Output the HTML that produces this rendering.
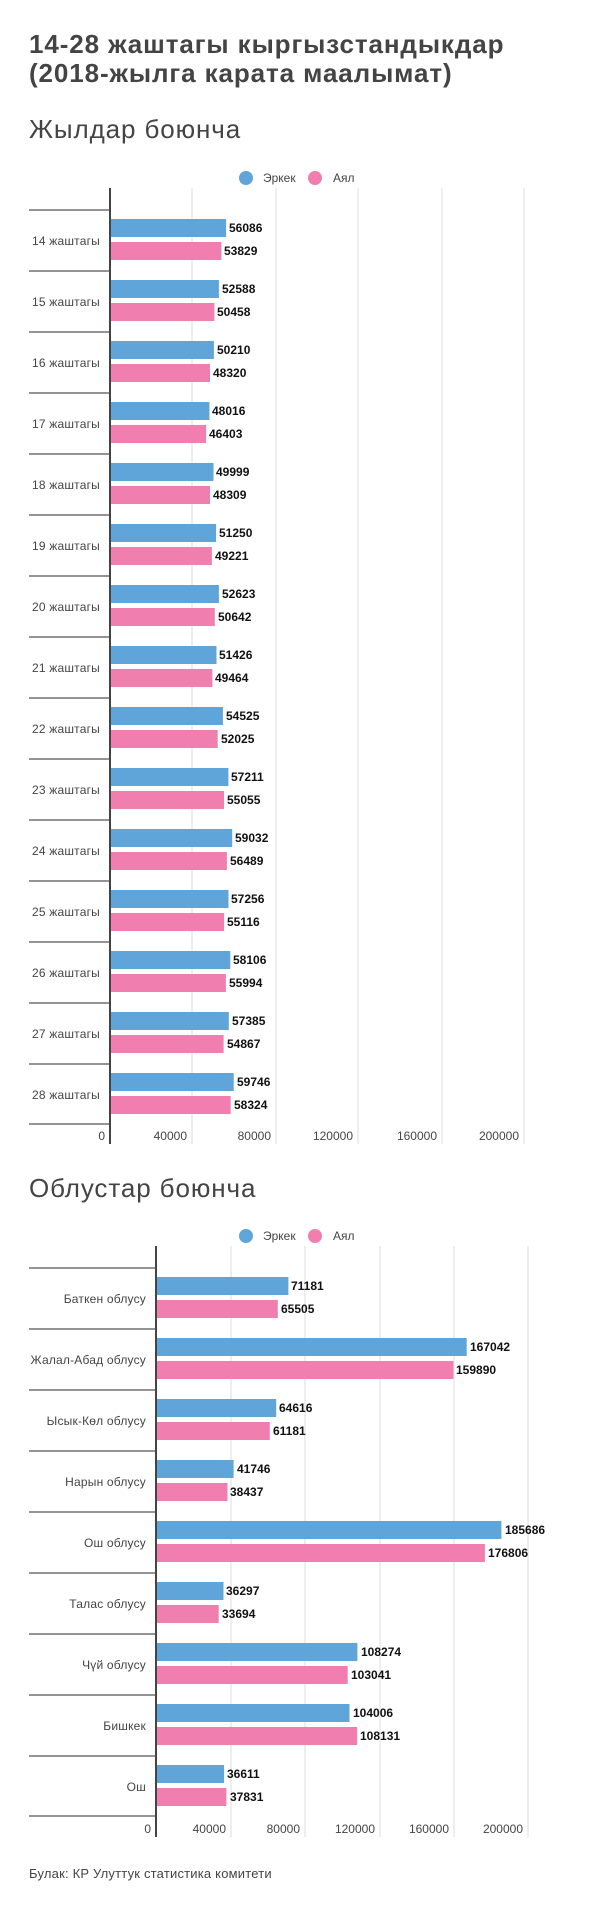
<!DOCTYPE html>
<html><head><meta charset="utf-8"><style>
html,body{margin:0;padding:0;background:#fff;}
svg{display:block;font-family:"Liberation Sans","DejaVu Sans",sans-serif;}
.t{font-weight:bold;font-size:26px;fill:#444;letter-spacing:0.9px;}
.s{font-size:26px;fill:#444;letter-spacing:0.9px;}
.c{font-size:12px;fill:#444;text-anchor:end;letter-spacing:0.2px;}
.v{font-size:12px;font-weight:bold;fill:#111;}
.a{font-size:12px;fill:#444;text-anchor:end;}
.l{font-size:12px;fill:#444;}
.b{fill:#5fa5d9;}
.p{fill:#f07fb0;}
.g{stroke:#ddd;stroke-width:1;}
.sep{stroke:#555;stroke-width:1.2;}
</style></head><body>
<svg width="600" height="1929" viewBox="0 0 600 1929">
<text class="t" x="29" y="53">14-28 жаштагы кыргызстандыкдар</text>
<text class="t" x="29" y="82">(2018-жылга карата маалымат)</text>
<text class="s" x="29" y="138">Жылдар боюнча</text>
<circle class="b" cx="246" cy="178" r="7"/><text class="l" x="263" y="182">Эркек</text>
<circle class="p" cx="315" cy="178" r="7"/><text class="l" x="333" y="182">Аял</text>
<g class="g"><line x1="192" y1="188" x2="192" y2="1144"/><line x1="276" y1="188" x2="276" y2="1144"/><line x1="358" y1="188" x2="358" y2="1144"/><line x1="442" y1="188" x2="442" y2="1144"/><line x1="524" y1="188" x2="524" y2="1144"/></g>
<g class="sep"><line x1="29" y1="210" x2="110" y2="210"/><line x1="29" y1="1124" x2="110" y2="1124"/></g>
<g transform="translate(0,210)"><text class="c" x="100" y="35">14 жаштагы</text><rect class="b" x="110" y="9" width="116.1" height="18"/><rect class="p" x="110" y="32" width="111.4" height="18"/><text class="v" x="229" y="22">56086</text><text class="v" x="224" y="45">53829</text><line class="sep" x1="29" y1="61" x2="110" y2="61"/></g>
<g transform="translate(0,271)"><text class="c" x="100" y="35">15 жаштагы</text><rect class="b" x="110" y="9" width="108.9" height="18"/><rect class="p" x="110" y="32" width="104.4" height="18"/><text class="v" x="222" y="22">52588</text><text class="v" x="217" y="45">50458</text><line class="sep" x1="29" y1="61" x2="110" y2="61"/></g>
<g transform="translate(0,332)"><text class="c" x="100" y="35">16 жаштагы</text><rect class="b" x="110" y="9" width="103.9" height="18"/><rect class="p" x="110" y="32" width="100.0" height="18"/><text class="v" x="217" y="22">50210</text><text class="v" x="213" y="45">48320</text><line class="sep" x1="29" y1="61" x2="110" y2="61"/></g>
<g transform="translate(0,393)"><text class="c" x="100" y="35">17 жаштагы</text><rect class="b" x="110" y="9" width="99.4" height="18"/><rect class="p" x="110" y="32" width="96.1" height="18"/><text class="v" x="212" y="22">48016</text><text class="v" x="209" y="45">46403</text><line class="sep" x1="29" y1="61" x2="110" y2="61"/></g>
<g transform="translate(0,454)"><text class="c" x="100" y="35">18 жаштагы</text><rect class="b" x="110" y="9" width="103.5" height="18"/><rect class="p" x="110" y="32" width="100.0" height="18"/><text class="v" x="216" y="22">49999</text><text class="v" x="213" y="45">48309</text><line class="sep" x1="29" y1="61" x2="110" y2="61"/></g>
<g transform="translate(0,515)"><text class="c" x="100" y="35">19 жаштагы</text><rect class="b" x="110" y="9" width="106.1" height="18"/><rect class="p" x="110" y="32" width="101.9" height="18"/><text class="v" x="219" y="22">51250</text><text class="v" x="215" y="45">49221</text><line class="sep" x1="29" y1="61" x2="110" y2="61"/></g>
<g transform="translate(0,576)"><text class="c" x="100" y="35">20 жаштагы</text><rect class="b" x="110" y="9" width="108.9" height="18"/><rect class="p" x="110" y="32" width="104.8" height="18"/><text class="v" x="222" y="22">52623</text><text class="v" x="218" y="45">50642</text><line class="sep" x1="29" y1="61" x2="110" y2="61"/></g>
<g transform="translate(0,637)"><text class="c" x="100" y="35">21 жаштагы</text><rect class="b" x="110" y="9" width="106.5" height="18"/><rect class="p" x="110" y="32" width="102.4" height="18"/><text class="v" x="219" y="22">51426</text><text class="v" x="215" y="45">49464</text><line class="sep" x1="29" y1="61" x2="110" y2="61"/></g>
<g transform="translate(0,698)"><text class="c" x="100" y="35">22 жаштагы</text><rect class="b" x="110" y="9" width="112.9" height="18"/><rect class="p" x="110" y="32" width="107.7" height="18"/><text class="v" x="226" y="22">54525</text><text class="v" x="221" y="45">52025</text><line class="sep" x1="29" y1="61" x2="110" y2="61"/></g>
<g transform="translate(0,759)"><text class="c" x="100" y="35">23 жаштагы</text><rect class="b" x="110" y="9" width="118.4" height="18"/><rect class="p" x="110" y="32" width="114.0" height="18"/><text class="v" x="231" y="22">57211</text><text class="v" x="227" y="45">55055</text><line class="sep" x1="29" y1="61" x2="110" y2="61"/></g>
<g transform="translate(0,820)"><text class="c" x="100" y="35">24 жаштагы</text><rect class="b" x="110" y="9" width="122.2" height="18"/><rect class="p" x="110" y="32" width="116.9" height="18"/><text class="v" x="235" y="22">59032</text><text class="v" x="230" y="45">56489</text><line class="sep" x1="29" y1="61" x2="110" y2="61"/></g>
<g transform="translate(0,881)"><text class="c" x="100" y="35">25 жаштагы</text><rect class="b" x="110" y="9" width="118.5" height="18"/><rect class="p" x="110" y="32" width="114.1" height="18"/><text class="v" x="231" y="22">57256</text><text class="v" x="227" y="45">55116</text><line class="sep" x1="29" y1="61" x2="110" y2="61"/></g>
<g transform="translate(0,942)"><text class="c" x="100" y="35">26 жаштагы</text><rect class="b" x="110" y="9" width="120.3" height="18"/><rect class="p" x="110" y="32" width="115.9" height="18"/><text class="v" x="233" y="22">58106</text><text class="v" x="229" y="45">55994</text><line class="sep" x1="29" y1="61" x2="110" y2="61"/></g>
<g transform="translate(0,1003)"><text class="c" x="100" y="35">27 жаштагы</text><rect class="b" x="110" y="9" width="118.8" height="18"/><rect class="p" x="110" y="32" width="113.6" height="18"/><text class="v" x="232" y="22">57385</text><text class="v" x="227" y="45">54867</text><line class="sep" x1="29" y1="61" x2="110" y2="61"/></g>
<g transform="translate(0,1064)"><text class="c" x="100" y="35">28 жаштагы</text><rect class="b" x="110" y="9" width="123.7" height="18"/><rect class="p" x="110" y="32" width="120.7" height="18"/><text class="v" x="237" y="22">59746</text><text class="v" x="234" y="45">58324</text></g>
<line x1="110" y1="188" x2="110" y2="1144" stroke="#444" stroke-width="2"/>
<text class="a" x="105" y="1140">0</text><text class="a" x="187" y="1140">40000</text><text class="a" x="271" y="1140">80000</text><text class="a" x="353" y="1140">120000</text><text class="a" x="437" y="1140">160000</text><text class="a" x="519" y="1140">200000</text>

<text class="s" x="29" y="1197">Облустар боюнча</text>
<circle class="b" cx="246" cy="1236" r="7"/><text class="l" x="263" y="1240">Эркек</text>
<circle class="p" cx="315" cy="1236" r="7"/><text class="l" x="333" y="1240">Аял</text>
<g class="g"><line x1="231" y1="1246" x2="231" y2="1837"/><line x1="305" y1="1246" x2="305" y2="1837"/><line x1="380" y1="1246" x2="380" y2="1837"/><line x1="454" y1="1246" x2="454" y2="1837"/><line x1="528" y1="1246" x2="528" y2="1837"/></g>
<g class="sep"><line x1="29" y1="1268" x2="156" y2="1268"/><line x1="29" y1="1816" x2="156" y2="1816"/></g>
<g transform="translate(0,1268)"><text class="c" x="146" y="35">Баткен облусу</text><rect class="b" x="156" y="9" width="132.4" height="18"/><rect class="p" x="156" y="32" width="121.8" height="18"/><text class="v" x="291" y="22">71181</text><text class="v" x="281" y="45">65505</text><line class="sep" x1="29" y1="61" x2="156" y2="61"/></g>
<g transform="translate(0,1329)"><text class="c" x="146" y="35">Жалал-Абад облусу</text><rect class="b" x="156" y="9" width="310.7" height="18"/><rect class="p" x="156" y="32" width="297.4" height="18"/><text class="v" x="470" y="22">167042</text><text class="v" x="456" y="45">159890</text><line class="sep" x1="29" y1="61" x2="156" y2="61"/></g>
<g transform="translate(0,1390)"><text class="c" x="146" y="35">Ысык-Көл облусу</text><rect class="b" x="156" y="9" width="120.2" height="18"/><rect class="p" x="156" y="32" width="113.8" height="18"/><text class="v" x="279" y="22">64616</text><text class="v" x="273" y="45">61181</text><line class="sep" x1="29" y1="61" x2="156" y2="61"/></g>
<g transform="translate(0,1451)"><text class="c" x="146" y="35">Нарын облусу</text><rect class="b" x="156" y="9" width="77.6" height="18"/><rect class="p" x="156" y="32" width="71.5" height="18"/><text class="v" x="237" y="22">41746</text><text class="v" x="230" y="45">38437</text><line class="sep" x1="29" y1="61" x2="156" y2="61"/></g>
<g transform="translate(0,1512)"><text class="c" x="146" y="35">Ош облусу</text><rect class="b" x="156" y="9" width="345.4" height="18"/><rect class="p" x="156" y="32" width="328.9" height="18"/><text class="v" x="505" y="22">185686</text><text class="v" x="488" y="45">176806</text><line class="sep" x1="29" y1="61" x2="156" y2="61"/></g>
<g transform="translate(0,1573)"><text class="c" x="146" y="35">Талас облусу</text><rect class="b" x="156" y="9" width="67.5" height="18"/><rect class="p" x="156" y="32" width="62.7" height="18"/><text class="v" x="226" y="22">36297</text><text class="v" x="222" y="45">33694</text><line class="sep" x1="29" y1="61" x2="156" y2="61"/></g>
<g transform="translate(0,1634)"><text class="c" x="146" y="35">Чүй облусу</text><rect class="b" x="156" y="9" width="201.4" height="18"/><rect class="p" x="156" y="32" width="191.7" height="18"/><text class="v" x="361" y="22">108274</text><text class="v" x="351" y="45">103041</text><line class="sep" x1="29" y1="61" x2="156" y2="61"/></g>
<g transform="translate(0,1695)"><text class="c" x="146" y="35">Бишкек</text><rect class="b" x="156" y="9" width="193.5" height="18"/><rect class="p" x="156" y="32" width="201.1" height="18"/><text class="v" x="353" y="22">104006</text><text class="v" x="360" y="45">108131</text><line class="sep" x1="29" y1="61" x2="156" y2="61"/></g>
<g transform="translate(0,1756)"><text class="c" x="146" y="35">Ош</text><rect class="b" x="156" y="9" width="68.1" height="18"/><rect class="p" x="156" y="32" width="70.4" height="18"/><text class="v" x="227" y="22">36611</text><text class="v" x="230" y="45">37831</text></g>
<line x1="156" y1="1246" x2="156" y2="1837" stroke="#444" stroke-width="2"/>
<text class="a" x="151" y="1833">0</text><text class="a" x="226" y="1833">40000</text><text class="a" x="300" y="1833">80000</text><text class="a" x="375" y="1833">120000</text><text class="a" x="449" y="1833">160000</text><text class="a" x="523" y="1833">200000</text>

<text x="29" y="1878" font-size="13" fill="#444" letter-spacing="0.2">Булак: КР Улуттук статистика комитети</text>
</svg>
</body></html>
